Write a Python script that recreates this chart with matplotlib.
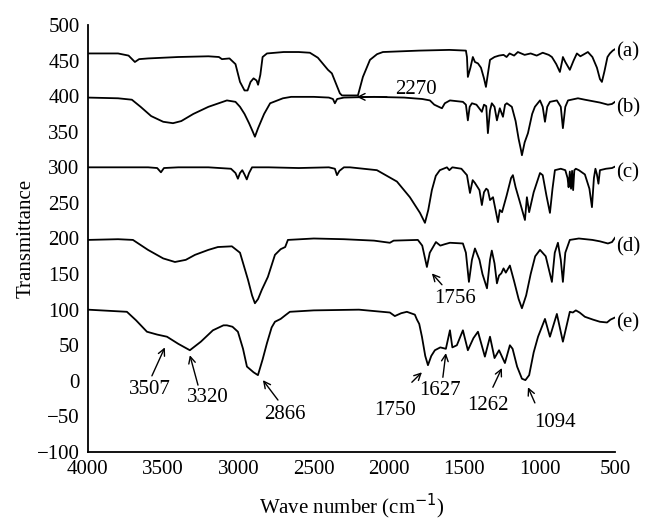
import matplotlib
matplotlib.use("Agg")
import matplotlib.pyplot as plt

plt.rcParams["font.family"] = ["Liberation Serif", "DejaVu Serif"]
plt.rcParams["font.size"] = 15

# spectrum (a)
wn_a = [4000, 3800, 3730, 3688, 3660, 3600, 3400, 3200, 3130, 3110, 3060, 3020, 2990, 2960, 2940,
        2920, 2900, 2880, 2870, 2855, 2840, 2811, 2700, 2600, 2526, 2473, 2406, 2380, 2327, 2313,
        2207, 2174, 2127, 2080, 2041, 1800, 1600, 1490, 1483, 1477, 1460, 1444, 1430, 1410, 1390,
        1370, 1357, 1345, 1330, 1300, 1270, 1240, 1220, 1200, 1170, 1145, 1100, 1060, 1020, 980,
        940, 919, 890, 866, 850, 846, 830, 800, 775, 753, 730, 713, 680, 650, 620, 600, 587,
        570, 550, 534, 515, 500]
t_a = [460, 460, 457, 448, 452, 453, 455, 456, 455, 452, 453, 445, 420, 408, 408,
       420, 425, 422, 416, 430, 455, 460, 462, 462, 461, 454, 437, 432, 404, 401,
       401, 427, 451, 459, 462, 464, 465, 464, 455, 427, 440, 455, 448, 446, 440,
       425, 413, 430, 451, 455, 457, 458, 455, 460, 457, 462, 458, 460, 457, 461,
       458, 455, 445, 434, 450, 455, 448, 437, 450, 460, 456, 458, 462, 455, 440, 424, 420,
       435, 455, 460, 464, 466]

# spectrum (b)
wn_b = [4000, 3800, 3708, 3650, 3580, 3500, 3435, 3380, 3300, 3200, 3077, 3020, 2990, 2960, 2930,
        2905, 2891, 2870, 2830, 2790, 2705, 2650, 2500, 2400, 2373, 2360, 2345, 2300, 2100, 1900,
        1780, 1729, 1700, 1660, 1649, 1630, 1596, 1510, 1490, 1477, 1465, 1450, 1420, 1384, 1370,
        1355, 1344, 1330, 1318, 1300, 1284, 1265, 1244, 1230, 1218, 1185, 1160, 1140, 1125, 1118,
        1100, 1078, 1050, 1032, 998, 980, 965, 950, 932, 886, 860, 846, 830, 812, 746, 700,
        650, 600, 547, 520, 500]
t_b = [398, 397, 395, 385, 372, 364, 362, 365, 375, 385, 394, 392, 385, 375, 362,
       350, 343, 355, 375, 390, 397, 399, 399, 398, 396, 390, 396, 398, 399, 398,
       396, 394, 388, 384, 383, 390, 394, 392, 388, 366, 385, 390, 388, 378, 388,
       386, 348, 380, 390, 385, 366, 383, 371, 388, 390, 385, 365, 340, 325, 317,
       335, 348, 375, 385, 394, 385, 364, 385, 392, 394, 385, 355, 385, 394, 397, 395,
       393, 391, 388, 389, 392]

# spectrum (c)
wn_c = [4000, 3600, 3540, 3515, 3495, 3400, 3200, 3050, 3020, 3004, 2990, 2975, 2960, 2945, 2930,
        2910, 2800, 2600, 2400, 2360, 2346, 2330, 2300, 2260, 2081, 1948, 1862, 1795, 1762, 1740,
        1716, 1690, 1663, 1616, 1600, 1580, 1520, 1483, 1463, 1445, 1430, 1400, 1384, 1370, 1355,
        1344, 1330, 1310, 1277, 1265, 1250, 1220, 1190, 1178, 1160, 1130, 1098, 1085, 1070, 1040,
        998, 980, 955, 932, 915, 899, 860, 830, 815, 808, 800, 792, 785, 778, 770, 760, 740,
        700, 670, 653, 640, 630, 620, 610, 600, 560, 520, 500]
t_c = [300, 300, 299, 293, 299, 300, 300, 298, 292, 284, 292, 296, 290, 283, 292,
       300, 300, 299, 300, 298, 289, 295, 300, 300, 296, 280, 258, 236, 222, 240,
       268, 288, 296, 300, 296, 300, 298, 289, 264, 282, 278, 268, 247, 265, 270,
       268, 254, 258, 223, 240, 237, 260, 285, 289, 272, 250, 226, 258, 237, 265,
       292, 289, 260, 236, 270, 296, 298, 296, 285, 272, 294, 270, 295, 268, 296, 298, 296,
       290, 270, 244, 285, 298, 290, 277, 296, 298, 299, 301]

# spectrum (d)
wn_d = [4000, 3800, 3701, 3601, 3500, 3422, 3350, 3289, 3200, 3137, 3044, 2990, 2937, 2910, 2891,
        2870, 2845, 2805, 2758, 2720, 2690, 2672, 2500, 2300, 2100, 1995, 1970, 1809, 1780, 1749,
        1730, 1689, 1660, 1630, 1596, 1510, 1490, 1470, 1450, 1430, 1400, 1380, 1350, 1330, 1318,
        1300, 1284, 1270, 1255, 1240, 1225, 1198, 1170, 1140, 1118, 1090, 1060, 1030, 998, 960,
        919, 900, 879, 860, 846, 830, 800, 740, 650, 600, 547, 520, 500]
t_d = [198, 199, 198, 184, 172, 167, 170, 177, 184, 188, 189, 180, 142, 120, 109,
       115, 128, 146, 177, 185, 188, 198, 200, 199, 197, 194, 197, 198, 190, 160,
       180, 195, 190, 192, 194, 193, 180, 139, 170, 186, 170, 150, 130, 170, 183,
       165, 137, 148, 151, 158, 152, 162, 140, 115, 102, 120, 150, 175, 184, 175,
       139, 180, 194, 170, 139, 180, 198, 200, 198, 196, 193, 195, 201]

# spectrum (e)
wn_e = [4000, 3741, 3680, 3608, 3540, 3475, 3400, 3323, 3250, 3170, 3100, 3077, 3040, 3004, 2970,
        2944, 2900, 2871, 2840, 2811, 2780, 2758, 2720, 2690, 2659, 2500, 2200, 1995, 1962, 1920,
        1882, 1829, 1815, 1800, 1782, 1760, 1742, 1720, 1696, 1660, 1623, 1596, 1580, 1550, 1510,
        1477, 1440, 1410, 1364, 1330, 1300, 1270, 1231, 1198, 1180, 1150, 1118, 1095, 1070, 1040,
        1011, 965, 932, 886, 846, 800, 780, 760, 735, 700, 646, 600, 553, 530, 500]
t_e = [100, 97, 85, 69, 65, 62, 52, 43, 55, 71, 78, 78, 76, 69, 45,
       20, 12, 8, 30, 53, 75, 83, 87, 92, 97, 99, 100, 96, 91, 95,
       97, 93, 86, 80, 62, 35, 22, 35, 43, 47, 45, 71, 47, 50, 71,
       43, 60, 69, 34, 62, 32, 43, 25, 50, 45, 20, 3, 1, 8, 40,
       62, 87, 62, 94, 55, 97, 96, 99, 96, 90, 86, 83, 82, 86, 89]

series = [(wn_a, t_a), (wn_b, t_b), (wn_c, t_c), (wn_d, t_d), (wn_e, t_e)]
curve_names = ["(a)", "(b)", "(c)", "(d)", "(e)"]
name_y = [462, 384, 292, 188, 82]

# peak annotations: text, text position, arrow tail, arrow head
peak_text = ["2270", "3507", "3320", "2866", "1756", "1750", "1627", "1262", "1094"]
peak_text_xy = [(1825, 409), (3588, -12), (3203, -23), (2692, -48), (1563, 116),
                (1962, -41), (1663, -13), (1344, -34), (899, -59)]
peak_tail = [(2015, 399), (3575, 7), (3269, -6), (2738, -27), (1649, 135),
             (1849, -2), (1643, 5), (1311, -9), (1032, -31)]
peak_head = [(2214, 399), (3489, 47), (3323, 36), (2838, 1), (1716, 151),
             (1782, 12), (1623, 39), (1251, 18), (1078, -9)]

fig = plt.figure(figsize=(6.56, 5.27), dpi=100)
ax = fig.add_axes([0.134, 0.1423, 0.8035, 0.8103])

for (x, y) in series:
    ax.plot(x, y, color="black", lw=1.3)

for name, yy in zip(curve_names, name_y):
    ax.text(490, yy, name, ha="left", va="center", clip_on=False)

for s, txy, tail, head in zip(peak_text, peak_text_xy, peak_tail, peak_head):
    ax.text(txy[0], txy[1], s, ha="center", va="center")
    ax.annotate("", xy=head, xytext=tail,
                arrowprops=dict(arrowstyle="->", lw=1.0, color="black",
                                shrinkA=0, shrinkB=0, mutation_scale=12))

ax.set_xlim(4000, 500)
ax.set_ylim(-100, 500)
ax.set_xticks([4000, 3500, 3000, 2500, 2000, 1500, 1000, 500])
ax.set_yticks(range(-100, 501, 50))
ax.tick_params(length=0, pad=6)
ax.spines["top"].set_visible(False)
ax.spines["right"].set_visible(False)
ax.spines["left"].set_linewidth(1.3)
ax.spines["bottom"].set_linewidth(1.3)
ax.set_xlabel("Wave number (cm$^{-1}$)", labelpad=9)
ax.set_ylabel("Transmittance", labelpad=1)

fig.savefig("out.png", dpi=100)
